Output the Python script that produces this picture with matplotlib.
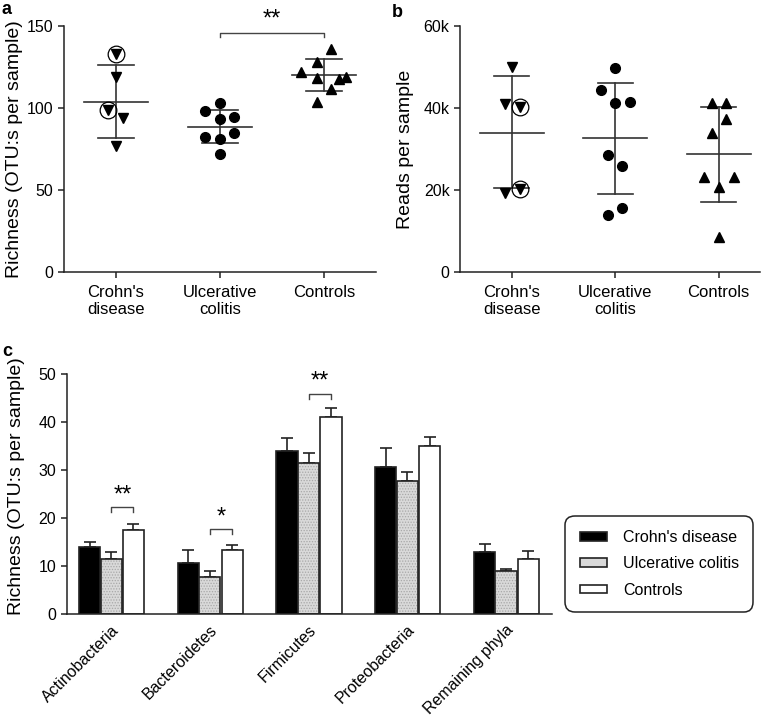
import matplotlib
matplotlib.use('Agg')
import matplotlib.pyplot as plt
import numpy as np
from matplotlib.patches import Patch
from matplotlib.ticker import FuncFormatter

plt.rcParams['font.family'] = ['Liberation Sans', 'DejaVu Sans']
plt.rcParams['hatch.linewidth'] = 0.6

groups = ["Crohn's\ndisease", "Ulcerative\ncolitis", "Controls"]

# panel a - richness per sample
cd_rich = [132.9, 119.1, 98.8, 93.7, 76.8]
cd_rich_dx = [0, 0, -0.075, 0.07, 0]
cd_rich_circ = [True, False, True, False, False]
uc_rich = [103.2, 98.2, 93.1, 94.7, 82.1, 81.1, 84.9, 71.8]
uc_rich_dx = [0, -0.145, 0, 0.14, -0.145, 0, 0.14, 0]
ctrl_rich = [135.8, 127.9, 122.1, 118.1, 117.5, 118.7, 111.4, 103.9]
ctrl_rich_dx = [0.07, -0.07, -0.22, -0.07, 0.145, 0.215, 0.07, -0.07]
rich_mean = [103.9, 88.6, 120.1]
rich_upper = [126.2, 98.8, 129.7]
rich_lower = [81.5, 78.5, 110.2]

# panel b - reads per sample (thousands)
cd_reads = [49.9, 41.0, 40.3, 19.2, 20.2]
cd_reads_dx = [0, -0.07, 0.075, -0.07, 0.075]
cd_reads_circ = [False, False, True, False, True]
uc_reads = [49.7, 44.4, 41.1, 41.5, 28.5, 25.9, 13.9, 15.7]
uc_reads_dx = [0, -0.14, 0, 0.145, -0.07, 0.07, -0.07, 0.07]
ctrl_reads = [41.3, 41.3, 37.2, 33.8, 23.1, 23.2, 20.7, 8.5]
ctrl_reads_dx = [-0.065, 0.07, 0.07, -0.065, -0.14, 0.145, 0, 0]
reads_mean = [34.0, 32.6, 28.7]
reads_upper = [47.8, 46.2, 40.3]
reads_lower = [20.4, 19.0, 17.1]

# panel c - richness by phylum
phyla = ['Actinobacteria', 'Bacteroidetes', 'Firmicutes', 'Proteobacteria', 'Remaining phyla']
cd_mean = [14.0, 10.7, 34.1, 30.7, 12.9]
cd_err = [1.1, 2.6, 2.6, 3.9, 1.8]
uc_mean = [11.5, 7.8, 31.6, 27.7, 9.0]
uc_err = [1.4, 1.1, 2.0, 1.9, 0.4]
ctrl_mean = [17.5, 13.3, 41.2, 35.0, 11.5]
ctrl_err = [1.3, 1.2, 1.7, 1.9, 1.7]
sig_idx = [0, 1, 2]
sig_txt = ['**', '*', '**']
sig_y = [22.3, 17.7, 45.9]

LINE = '#222222'
GRAY = '#d9d9d9'


def style_axes(ax):
    for s in ['top', 'right']:
        ax.spines[s].set_visible(False)
    for s in ['left', 'bottom']:
        ax.spines[s].set_linewidth(1.1)
        ax.spines[s].set_color(LINE)
    ax.tick_params(direction='out', length=4, width=1.1, color=LINE, labelsize=11.5)


def scatter_panel(ax, data, offsets, markers, circled, mean, upper, lower):
    for i, (vals, dx, mk) in enumerate(zip(data, offsets, markers)):
        xs = i + np.array(dx)
        ax.plot(xs, vals, ls='none', marker=mk, color='black',
                ms=7 if mk == 'o' else 7.5, zorder=3)
        if circled[i] is not None:
            for x, v, c in zip(xs, vals, circled[i]):
                if c:
                    ax.plot(x, v, marker='o', ms=12, mfc='none', mec='black',
                            mew=0.9, zorder=4)
        ax.plot([i - 0.31, i + 0.31], [mean[i], mean[i]], color='#333333', lw=1.2)
        ax.plot([i - 0.17, i + 0.17], [upper[i], upper[i]], color='#333333', lw=1.2)
        ax.plot([i - 0.17, i + 0.17], [lower[i], lower[i]], color='#333333', lw=1.2)
        ax.plot([i, i], [lower[i], upper[i]], color='#333333', lw=1.2)
    ax.set_xticks(range(3))
    ax.set_xticklabels(groups, fontsize=12)
    ax.tick_params(axis='x', pad=5)


fig = plt.figure(figsize=(7.72, 7.2), dpi=100)

# ---- a ----
axa = fig.add_axes([0.0829, 0.6222, 0.404, 0.3417])
style_axes(axa)
scatter_panel(axa, [cd_rich, uc_rich, ctrl_rich],
              [cd_rich_dx, uc_rich_dx, ctrl_rich_dx], ['v', 'o', '^'],
              [cd_rich_circ, None, None], rich_mean, rich_upper, rich_lower)
axa.set_xlim(-0.5, 2.5)
axa.set_ylim(0, 150)
axa.set_yticks([0, 50, 100, 150])
axa.set_ylabel('Richness (OTU:s per sample)', fontsize=14)
axa.yaxis.set_label_coords(-0.13, 0.5)
axa.plot([1, 1, 2, 2], [143.3, 145.9, 145.9, 143.3], color='#444444', lw=1, clip_on=False)
axa.text(1.5, 147, '**', ha='center', va='bottom', fontsize=17, clip_on=False)
fig.text(0.002, 0.998, 'a', fontsize=13, fontweight='bold', va='top')

# ---- b ----
axb = fig.add_axes([0.5959, 0.6222, 0.3886, 0.3417])
style_axes(axb)
scatter_panel(axb, [cd_reads, uc_reads, ctrl_reads],
              [cd_reads_dx, uc_reads_dx, ctrl_reads_dx], ['v', 'o', '^'],
              [cd_reads_circ, None, None], reads_mean, reads_upper, reads_lower)
axb.set_xlim(-0.5, 2.4)
axb.set_ylim(0, 60)
axb.set_yticks([0, 20, 40, 60])
axb.yaxis.set_major_formatter(FuncFormatter(lambda v, p: '0' if v == 0 else f'{v:.0f}k'))
axb.set_ylabel('Reads per sample', fontsize=14)
axb.yaxis.set_label_coords(-0.155, 0.5)
fig.text(0.508, 0.995, 'b', fontsize=13, fontweight='bold', va='top')

# ---- c ----
axc = fig.add_axes([0.0864, 0.1472, 0.628, 0.3329])
style_axes(axc)
x = np.arange(len(phyla))
w = 0.215
offs = [-0.218, 0.0, 0.226]
series = [(cd_mean, cd_err, 'black'), (uc_mean, uc_err, GRAY), (ctrl_mean, ctrl_err, 'white')]
for off, (m, e, col) in zip(offs, series):
    if col == GRAY:
        # stippled fill
        axc.bar(x + off, m, width=w, color=GRAY, edgecolor='#a8a8a8', hatch='......',
                linewidth=0, zorder=2)
        axc.bar(x + off, m, width=w, color='none', edgecolor=LINE, linewidth=1.2, zorder=2)
    else:
        axc.bar(x + off, m, width=w, color=col, edgecolor=LINE, linewidth=1.2, zorder=2)
    axc.errorbar(x + off, m, yerr=[np.zeros(len(m)), e], fmt='none', ecolor=LINE,
                 elinewidth=1.2, capsize=4.5, capthick=1.2, zorder=1)
for i, t, yb in zip(sig_idx, sig_txt, sig_y):
    x0, x1 = i + offs[1], i + offs[2]
    axc.plot([x0, x0, x1, x1], [yb - 1.0, yb, yb, yb - 1.0], color='#444444', lw=1)
    axc.text((x0 + x1) / 2, yb + 0.2, t, ha='center', va='bottom', fontsize=17)
axc.set_xlim(-0.45, 4.46)
axc.set_ylim(0, 50)
axc.set_yticks(range(0, 51, 10))
axc.set_xticks(x)
axc.set_xticklabels(phyla, rotation=45, ha='right', rotation_mode='anchor', fontsize=11.5)
axc.tick_params(axis='x', length=0, pad=6)
axc.set_ylabel('Richness (OTU:s per sample)', fontsize=14)
axc.yaxis.set_label_coords(-0.085, 0.535)
fig.text(0.003, 0.523, 'c', fontsize=13, fontweight='bold', va='top')

handles = [Patch(facecolor='black', edgecolor=LINE, lw=1.2),
           Patch(facecolor=GRAY, edgecolor=LINE, lw=1.2),
           Patch(facecolor='white', edgecolor=LINE, lw=1.2)]
leg = fig.legend(handles, ["Crohn's disease", 'Ulcerative colitis', 'Controls'],
                 loc='lower left', bbox_to_anchor=(0.722, 0.139), fontsize=11.5,
                 handlelength=1.7, handleheight=0.45, handletextpad=1.0,
                 labelspacing=0.7, borderpad=0.9, fancybox=True, framealpha=1,
                 edgecolor=LINE)
leg.get_frame().set_linewidth(1.1)
leg.get_frame().set_boxstyle('round,pad=0,rounding_size=0.6')

fig.savefig('out.png', dpi=100)
